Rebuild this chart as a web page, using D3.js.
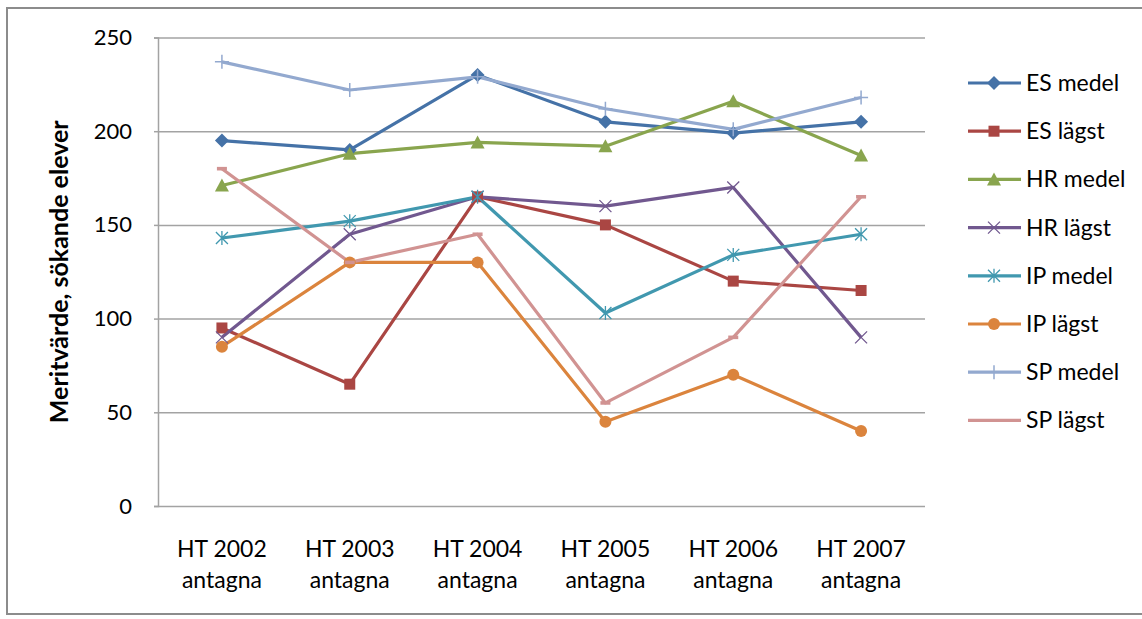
<!DOCTYPE html>
<html>
<head>
<meta charset="utf-8">
<script src="https://cdn.jsdelivr.net/npm/d3@7"></script>
<style>
  body { margin: 0; background: #fff; }
  svg text { font-family: Lato, "Liberation Sans", sans-serif; fill: #000; }
</style>
</head>
<body>
<div class="canvas"></div>
<script>
// data
const years = ['HT 2002', 'HT 2003', 'HT 2004', 'HT 2005', 'HT 2006', 'HT 2007']
const subLabel = 'antagna'
const yTicks = [0, 50, 100, 150, 200, 250]

const esMedel = [195, 190, 230, 205, 199, 205]
const esLagst = [95, 65, 165, 150, 120, 115]
const hrMedel = [171, 188, 194, 192, 216, 187]
const hrLagst = [90, 145, 165, 160, 170, 90]
const ipMedel = [143, 152, 165, 103, 134, 145]
const ipLagst = [85, 130, 130, 45, 70, 40]
const spMedel = [237, 222, 229, 212, 201, 218]
const spLagst = [180, 130, 145, 55, 90, 165]

const series = [
    { name: 'ES medel', values: esMedel, color: '#4572A7', marker: 'diamond' },
    { name: 'ES lägst', values: esLagst, color: '#AA4643', marker: 'square' },
    { name: 'HR medel', values: hrMedel, color: '#89A54E', marker: 'triangle' },
    { name: 'HR lägst', values: hrLagst, color: '#71588F', marker: 'cross' },
    { name: 'IP medel', values: ipMedel, color: '#4198AF', marker: 'star' },
    { name: 'IP lägst', values: ipLagst, color: '#DB843D', marker: 'circle' },
    { name: 'SP medel', values: spMedel, color: '#93A9CF', marker: 'plus' },
    { name: 'SP lägst', values: spLagst, color: '#D19392', marker: 'dash' }
]

const dims = { width: 1142, height: 619 }
const plot = { left: 158, right: 925, top: 37.5, bottom: 506 }

const svg = d3.select('.canvas')
    .append('svg')
    .attr('width', dims.width)
    .attr('height', dims.height)

// outer frame
svg.append('rect')
    .attr('x', 7).attr('y', 8)
    .attr('width', 1160).attr('height', 606)
    .attr('fill', 'none')
    .attr('stroke', '#8c8c8c')
    .attr('stroke-width', 2)

const x = d3.scalePoint()
    .domain(years)
    .range([plot.left, plot.right])
    .padding(0.5)

const y = d3.scaleLinear()
    .domain([0, 250])
    .range([plot.bottom, plot.top])

// gridlines
svg.append('g')
    .attr('transform', `translate(${plot.left}, 0)`)
    .call(d3.axisLeft(y).tickValues(yTicks).tickSize(-(plot.right - plot.left)).tickFormat(''))
    .call(g => g.select('.domain').remove())
    .call(g => g.selectAll('line').attr('stroke', '#a3a3a3').attr('stroke-width', 1.5))

// y axis
svg.append('g')
    .attr('transform', `translate(${plot.left}, 0)`)
    .call(d3.axisLeft(y).tickValues(yTicks).tickSize(4).tickPadding(22))
    .call(g => g.select('.domain').attr('stroke', '#a3a3a3').attr('stroke-width', 1.5))
    .call(g => g.selectAll('line').attr('stroke', '#a3a3a3').attr('stroke-width', 1.5))
    .call(g => g.selectAll('text')
        .attr('font-size', 22)
        .attr('fill', '#000')
        .attr('font-family', 'Lato, sans-serif'))

// x axis labels (two lines)
const xl = svg.append('g')
xl.selectAll('text.yr')
    .data(years)
    .enter()
    .append('text')
        .attr('x', d => x(d))
        .attr('y', 557)
        .attr('text-anchor', 'middle')
        .attr('font-size', 23)
        .text(d => d)
xl.selectAll('text.sub')
    .data(years)
    .enter()
    .append('text')
        .attr('x', d => x(d))
        .attr('y', 588)
        .attr('text-anchor', 'middle')
        .attr('font-size', 23)
        .text(subLabel)

// y title
svg.append('text')
    .attr('transform', `translate(68, ${(plot.top + plot.bottom) / 2}) rotate(-90)`)
    .attr('text-anchor', 'middle')
    .attr('font-size', 25)
    .attr('font-weight', 'bold')
    .text('Meritvärde, sökande elever')

// marker drawing
function drawMarker(g, type, color) {
    if (type === 'diamond') {
        g.append('path').attr('d', 'M0,-7L7,0L0,7L-7,0Z').attr('fill', color)
    } else if (type === 'square') {
        g.append('rect').attr('x', -5.5).attr('y', -5.5).attr('width', 11).attr('height', 11).attr('fill', color)
    } else if (type === 'triangle') {
        g.append('path').attr('d', 'M0,-7L7,6L-7,6Z').attr('fill', color)
    } else if (type === 'circle') {
        g.append('circle').attr('r', 6).attr('fill', color)
    } else if (type === 'cross') {
        g.append('path').attr('d', 'M-6,-6L6,6M-6,6L6,-6')
            .attr('stroke', color).attr('stroke-width', 1.3).attr('fill', 'none')
    } else if (type === 'star') {
        g.append('path').attr('d', 'M-6,-6L6,6M-6,6L6,-6M0,-7L0,7')
            .attr('stroke', color).attr('stroke-width', 1.3).attr('fill', 'none')
    } else if (type === 'plus') {
        g.append('path').attr('d', 'M-7,0L7,0M0,-7L0,7')
            .attr('stroke', color).attr('stroke-width', 1.5).attr('fill', 'none')
    } else if (type === 'dash') {
        g.append('rect').attr('x', -5).attr('y', -1.8).attr('width', 10).attr('height', 3.6).attr('fill', color)
    }
}

const line = d3.line()
    .x((d, i) => x(years[i]))
    .y(d => y(d))

const graph = svg.append('g')

series.forEach(s => {
    graph.append('path')
        .datum(s.values)
        .attr('d', line)
        .attr('fill', 'none')
        .attr('stroke', s.color)
        .attr('stroke-width', 3.2)
        .attr('stroke-linejoin', 'round')
})

series.forEach(s => {
    s.values.forEach((v, i) => {
        const g = graph.append('g')
            .attr('transform', `translate(${x(years[i])}, ${y(v)})`)
        drawMarker(g, s.marker, s.color)
    })
})

// legend
const legend = svg.append('g')
series.forEach((s, i) => {
    const ly = 83 + i * 48.2
    const row = legend.append('g').attr('transform', `translate(0, ${ly})`)
    row.append('line')
        .attr('x1', 968).attr('x2', 1021)
        .attr('stroke', s.color).attr('stroke-width', 3.2)
    const m = row.append('g').attr('transform', 'translate(994, 0)')
    if (s.marker !== 'dash') drawMarker(m, s.marker, s.color)
    row.append('text')
        .attr('x', 1026)
        .attr('y', 8)
        .attr('font-size', 23)
        .text(s.name)
})
</script>
</body>
</html>
